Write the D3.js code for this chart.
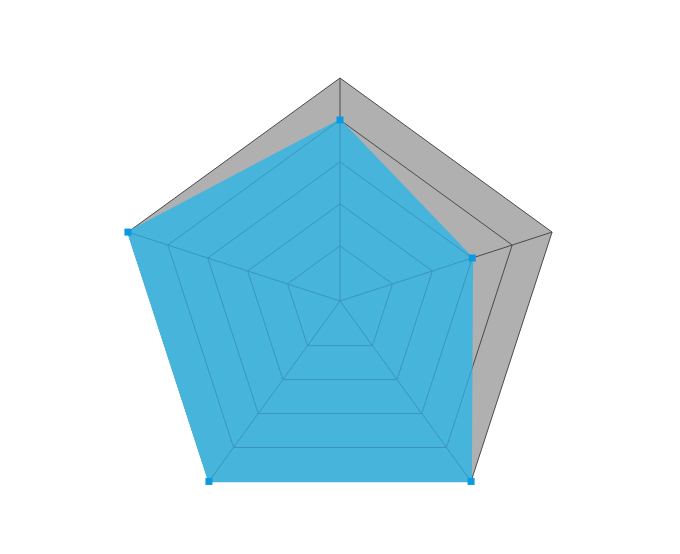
<!DOCTYPE html>
<html>
<head>
<meta charset="utf-8">
<script src="https://cdn.jsdelivr.net/npm/d3@7"></script>
<style>
  html, body { margin: 0; padding: 0; background: #ffffff; }
  svg { display: block; }
</style>
</head>
<body>
<div id="chart"></div>
<script>
// ---- data ----
const indicators = ["A", "B", "C", "D", "E"];     // clockwise from top
const levelTicks = [20, 40, 60, 80, 100];
const scaleMin = -6.3;
const scaleMax = 100;
const backgroundValues = [100, 100, 100, 100, 100];
const seriesValues = [80, 60, 100, 100, 100];

// ---- layout ----
const width = 680, height = 554;
const cx = 340, cy = 301, R = 223;

const svg = d3.select("#chart").append("svg")
  .attr("width", width).attr("height", height);

const rScale = d3.scaleLinear().domain([scaleMin, scaleMax]).range([0, R]);
const angle = d3.scaleLinear().domain([0, indicators.length]).range([0, 2 * Math.PI]);

function pt(i, v) {
  const a = angle(i), r = rScale(v);
  return [cx + r * Math.sin(a), cy - r * Math.cos(a)];
}
const line = d3.line();
function poly(vals) { return line(vals.map((v, i) => pt(i, v))) + "Z"; }

function drawGrid(g, rings) {
  rings.forEach(t => {
    g.append("path").attr("d", poly(indicators.map(() => t)));
  });
  indicators.forEach((d, i) => {
    const p = pt(i, scaleMax);
    const c = pt(i, scaleMin);
    g.append("line").attr("x1", c[0]).attr("y1", c[1]).attr("x2", p[0]).attr("y2", p[1]);
  });
}

// grey background area
svg.append("path")
  .attr("d", poly(backgroundValues))
  .attr("fill", "#b0b0b0");

// dark grid
drawGrid(svg.append("g").attr("stroke", "#4a4a4a").attr("stroke-width", 1).attr("fill", "none"), levelTicks);

// series area
svg.append("path")
  .attr("d", poly(seriesValues))
  .attr("fill", "#47b4dc")
  .attr("stroke", "#47b4dc")
  .attr("stroke-width", 1.6)
  .attr("stroke-linejoin", "miter");

// grid seen through the series area
svg.append("clipPath").attr("id", "areaClip")
  .append("path").attr("d", poly(seriesValues));
drawGrid(svg.append("g")
  .attr("clip-path", "url(#areaClip)")
  .attr("stroke", "#3b95bd").attr("stroke-width", 1).attr("fill", "none"),
  levelTicks.slice(0, -1));

// markers
const ms = 7;
svg.append("g").selectAll("rect")
  .data(seriesValues)
  .join("rect")
  .attr("x", (v, i) => pt(i, v)[0] - ms / 2)
  .attr("y", (v, i) => pt(i, v)[1] - ms / 2)
  .attr("width", ms).attr("height", ms)
  .attr("fill", "#0a9ae2");
</script>
</body>
</html>
